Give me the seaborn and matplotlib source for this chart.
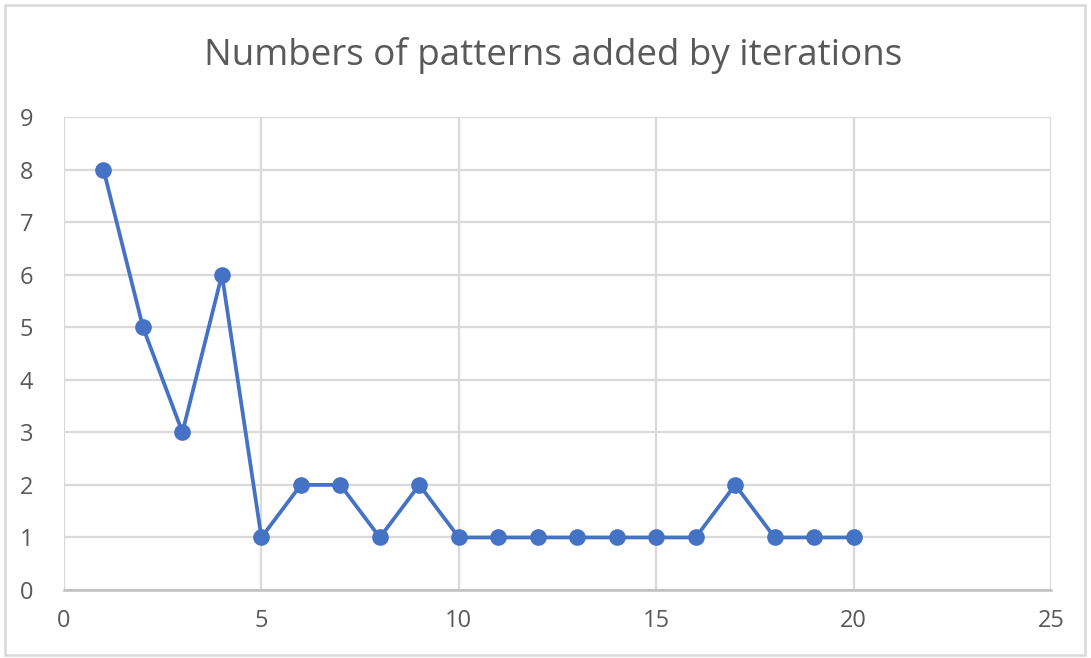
import matplotlib
matplotlib.use("Agg")
import matplotlib.pyplot as plt
import seaborn as sns
import pandas as pd
from matplotlib.patches import Rectangle

iterations = list(range(1, 21))
patterns_added = [8, 5, 3, 6, 1, 2, 2, 1, 2, 1, 1, 1, 1, 1, 1, 1, 2, 1, 1, 1]
title = "Numbers of patterns added by iterations"

sns.set_theme(style="white")
plt.rcParams['font.family'] = ['Open Sans', 'DejaVu Sans']

df = pd.DataFrame({"iteration": iterations, "patterns": patterns_added})

fig = plt.figure(figsize=(10.91, 6.58), dpi=100)
ax = fig.add_axes([64/1091, 1-590/658, (1051-64)/1091, (590-117)/658])

sns.lineplot(data=df, x="iteration", y="patterns", ax=ax, color="#4472C4",
             linewidth=2.7, marker="o", markersize=12, markeredgewidth=0,
             zorder=3)

ax.set_xlim(0, 25)
ax.set_ylim(0, 9)
ax.set_xticks(range(0, 26, 5))
ax.set_yticks(range(0, 10))
ax.grid(True, color="#D9D9D9", linewidth=1.6)
ax.set_axisbelow(True)
for s in ["left", "right", "top"]:
    ax.spines[s].set_visible(False)
ax.spines["bottom"].set_color("#BFBFBF")
ax.spines["bottom"].set_linewidth(1.8)
ax.tick_params(axis="both", length=0, labelsize=17, labelcolor="#595959")
ax.tick_params(axis="x", pad=14)
ax.tick_params(axis="y", pad=27)
for lbl in ax.get_yticklabels():
    lbl.set_horizontalalignment("center")
ax.set_xlabel("")
ax.set_ylabel("")

fig.text(553/1091, 1-55/658, title, ha="center", va="center",
         fontsize=26.5, color="#595959")

fig.patches.append(Rectangle((5/1091, 3/658), 1080/1091, 650/658,
                             transform=fig.transFigure, fill=False,
                             edgecolor="#D9D9D9", linewidth=1.8))

fig.savefig("out.png", dpi=100, facecolor="white")
